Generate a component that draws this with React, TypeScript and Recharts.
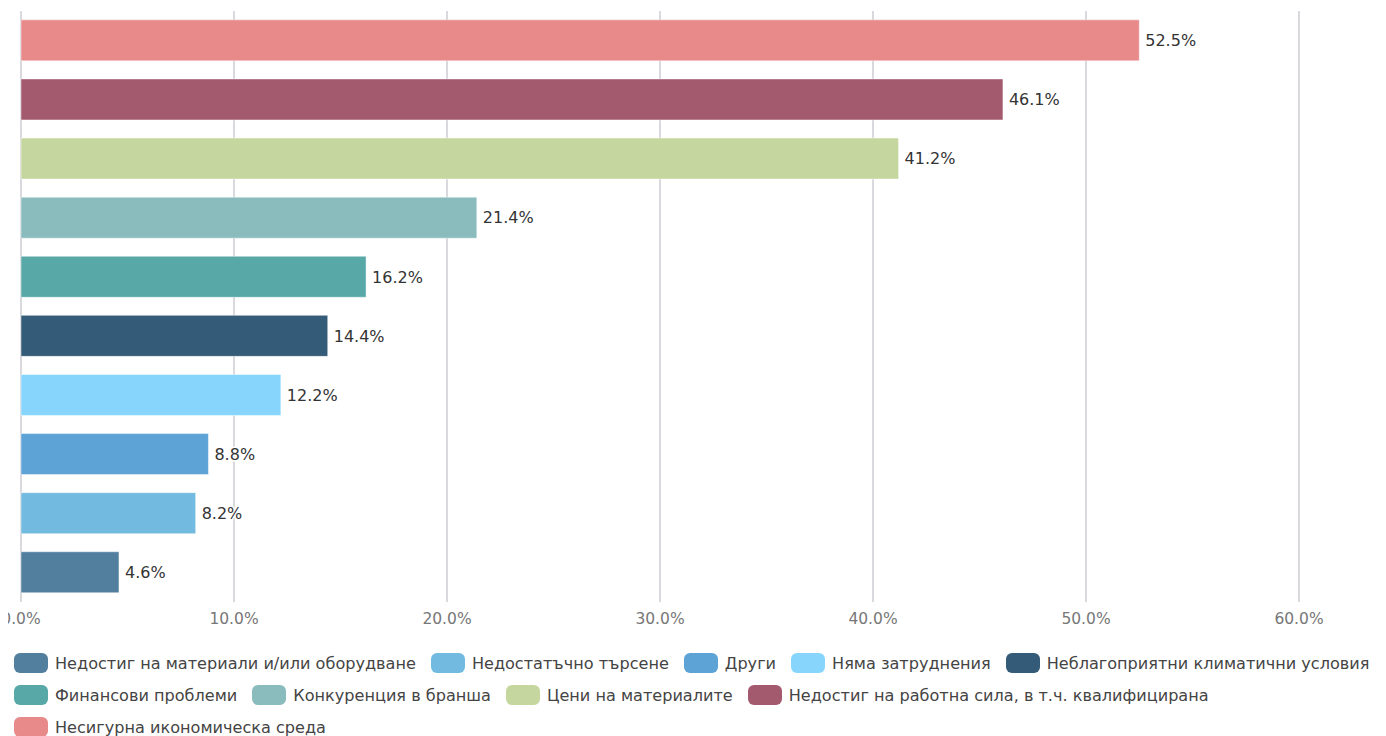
import React from 'react';
import { BarChart, Bar, XAxis, YAxis, CartesianGrid, Cell, LabelList, Legend } from 'recharts';

const categories = [
  'Недостиг на материали и/или оборудване',
  'Недостатъчно търсене',
  'Други',
  'Няма затруднения',
  'Неблагоприятни климатични условия',
  'Финансови проблеми',
  'Конкуренция в бранша',
  'Цени на материалите',
  'Недостиг на работна сила, в т.ч. квалифицирана',
  'Несигурна икономическа среда',
];
const values = [4.6, 8.2, 8.8, 12.2, 14.4, 16.2, 21.4, 41.2, 46.1, 52.5];
const colors = [
  '#537F9E', '#72BADF', '#5DA3D6', '#87D5FD', '#345C78',
  '#57A8A7', '#8ABBBD', '#C5D79E', '#A3596E', '#E8898A',
];
const xTicks = [0, 10, 20, 30, 40, 50, 60];
const legendRowSizes = [5, 4, 1];

const data = categories
  .map((name, i) => ({ name, value: values[i], color: colors[i] }))
  .reverse();
const bandTicks = Array.from({ length: categories.length + 1 }, (_, i) => i);

const FONT = '"DejaVu Sans", sans-serif';

const renderLabel = (props: any) => {
  const { x, y, width, height, value } = props;
  return (
    <text
      x={Number(x) + Number(width) + 6}
      y={Number(y) + Number(height) / 2}
      dy="0.36em"
      fontFamily={FONT}
      fontSize={16}
      fill="#333"
      stroke="#fff"
      strokeWidth={3}
      strokeLinejoin="round"
      style={{ paintOrder: 'stroke' }}
    >
      {Number(value).toFixed(1)}%
    </text>
  );
};

const renderLegend = () => {
  const rows: number[][] = [];
  let idx = 0;
  legendRowSizes.forEach((n) => {
    const r: number[] = [];
    for (let k = 0; k < n; k++) r.push(idx++);
    rows.push(r);
  });
  return (
    <div style={{ fontFamily: FONT, fontSize: 16.1, color: '#444' }}>
      {rows.map((r, ri) => (
        <div key={ri} style={{ display: 'flex', alignItems: 'center', height: 32, whiteSpace: 'nowrap' }}>
          {r.map((i) => (
            <div key={i} style={{ display: 'flex', alignItems: 'center', marginRight: 15 }}>
              <span
                style={{
                  display: 'inline-block',
                  width: 34,
                  height: 20,
                  borderRadius: 6,
                  background: colors[i],
                  marginRight: 7,
                }}
              />
              <span>{categories[i]}</span>
            </div>
          ))}
        </div>
      ))}
    </div>
  );
};

export default function App() {
  return (
    <div style={{ width: 1378, height: 728, overflow: 'hidden' }}>
      <BarChart
        width={1378}
        height={728}
        data={data}
        layout="vertical"
        margin={{ top: 3, right: 87, bottom: 104, left: 0 }}
        barCategoryGap="15%"
      >
        <CartesianGrid horizontal={false} stroke="#c4c4cc" strokeWidth={1.3} yAxisId="grid" />
        <XAxis
          type="number"
          domain={[0, 60]}
          ticks={xTicks}
          tickFormatter={(v: number) => `${v.toFixed(1)}%`}
          axisLine={false}
          tickLine={false}
          tickMargin={5}
          tick={{ fill: '#777', fontSize: 15.5, fontFamily: FONT }}
          height={30}
          interval={0}
        />
        <YAxis yAxisId="cat" type="category" dataKey="name" hide />
        <YAxis
          yAxisId="grid"
          type="number"
          domain={[0, categories.length]}
          ticks={bandTicks}
          width={13}
          tickSize={6}
          tickFormatter={() => ''}
          axisLine={{ stroke: '#777', strokeWidth: 1.3 }}
          tickLine={{ stroke: '#777', strokeWidth: 1.3 }}
          interval={0}
        />
        <Legend
          layout="horizontal"
          verticalAlign="middle"
          align="center"
          content={renderLegend}
          wrapperStyle={{ top: 639, left: 6, width: 1372 }}
        />
        <Bar
          yAxisId="cat"
          dataKey="value"
          isAnimationActive={false}
          stroke="#ffffff"
          strokeOpacity={0.45}
          strokeWidth={1}
        >
          {data.map((d, i) => (
            <Cell key={i} fill={d.color} />
          ))}
          <LabelList dataKey="value" content={renderLabel} />
        </Bar>
      </BarChart>
    </div>
  );
}
